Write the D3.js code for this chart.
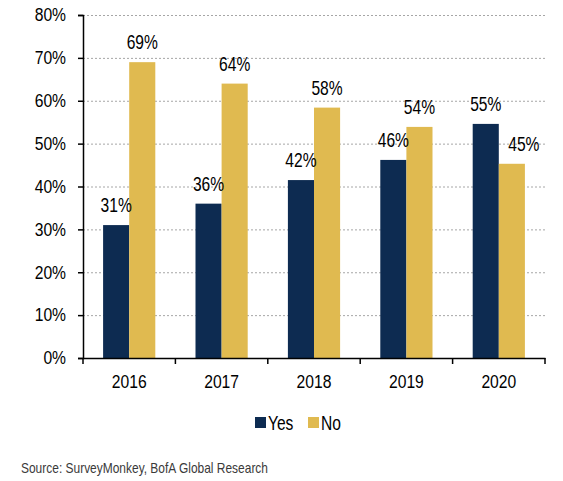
<!DOCTYPE html>
<html><head><meta charset="utf-8">
<script src="https://cdn.jsdelivr.net/npm/d3@7"></script>
<style>body{margin:0;background:#fff}svg{display:block}</style>
</head><body>
<svg id="c" width="563" height="481"></svg>
<script>
const categories = ["2016","2017","2018","2019","2020"];
const seriesNames = ["Yes","No"];
const yesValues = [31, 36, 41.5, 46.2, 54.6];
const noValues = [69, 64, 58.4, 53.9, 45.3];
const yesLabels = ["31%","36%","42%","46%","55%"];
const noLabels = ["69%","64%","58%","54%","45%"];
const yTicks = [0,10,20,30,40,50,60,70,80];
const colors = {Yes:"#0d2b51", No:"#e0ba50"};
const sourceText = "Source: SurveyMonkey, BofA  Global Research";

const svg = d3.select("#c");
const m = {l:83, r:545, t:15, b:358};
const font = "'Liberation Sans', Arial, sans-serif";

function squeeze(sel, sx){
  sel.each(function(){
    const t = d3.select(this);
    const x0 = +(t.attr("x") || 0);
    t.attr("x", x0/sx).attr("transform", `scale(${sx},1)`);
  });
}

const x = d3.scaleBand().domain(categories).range([m.l, m.r]);
const xs = d3.scaleBand().domain(seriesNames).range([0, x.bandwidth()]).paddingOuter(0.77).paddingInner(0);
const y = d3.scaleLinear().domain([0,80]).range([m.b, m.t]);

// gridlines
svg.append("g").selectAll("line").data(yTicks.filter(d=>d>0)).join("line")
  .attr("x1", m.l).attr("x2", m.r)
  .attr("y1", d=>y(d)+0.5).attr("y2", d=>y(d)+0.5)
  .attr("stroke","#a6a6a6").attr("stroke-width",1).attr("stroke-dasharray","2,2");

const data = categories.map((c,i)=>({cat:c, vals:[
  {s:"Yes", v:yesValues[i], lab:yesLabels[i], shift:0},
  {s:"No", v:noValues[i], lab:noLabels[i], shift: noValues[i] < yesValues[i] ? 12 : 0}]}));

const g = svg.append("g").selectAll("g").data(data).join("g")
  .attr("transform", d=>`translate(${x(d.cat)},0)`);
g.selectAll("rect").data(d=>d.vals).join("rect")
  .attr("x", d=>xs(d.s)).attr("width", xs.bandwidth())
  .attr("y", d=>y(d.v)).attr("height", d=>y(0)-y(d.v))
  .attr("fill", d=>colors[d.s]);
const vl = g.selectAll("text").data(d=>d.vals).join("text")
  .attr("x", d=>xs(d.s)+xs.bandwidth()/2 + d.shift)
  .attr("y", d=>y(d.v)-13)
  .attr("text-anchor","middle")
  .attr("font-family",font).attr("font-size",20).attr("fill","#000")
  .text(d=>d.lab);
squeeze(vl, 0.78);

// y axis
const ya = svg.append("g").attr("transform",`translate(${m.l},0)`)
  .call(d3.axisLeft(y).tickValues(yTicks).tickFormat(d=>d+"%").tickSize(5).tickPadding(12));
ya.select(".domain").attr("stroke","#000").attr("stroke-width",1.5);
ya.selectAll(".tick line").attr("stroke","#000").attr("stroke-width",1.5);
ya.selectAll("text").attr("font-family",font).attr("font-size",18).attr("fill","#000");
squeeze(ya.selectAll("text"), 0.87);

// x axis
const xa = svg.append("g").attr("transform",`translate(0,${m.b})`)
  .call(d3.axisBottom(x).tickSize(0).tickPadding(16));
xa.select(".domain").attr("stroke","#000").attr("stroke-width",1.5);
xa.selectAll("text").attr("font-family",font).attr("font-size",18).attr("fill","#000")
  .attr("dy",null).attr("y",30);
squeeze(xa.selectAll("text"), 0.87);
// category separator ticks
svg.append("g").selectAll("line").data(categories.concat(["end"])).join("line")
  .attr("x1", (d,i)=> i<categories.length ? x(d) : m.r)
  .attr("x2", (d,i)=> i<categories.length ? x(d) : m.r)
  .attr("y1", m.b).attr("y2", m.b+6)
  .attr("stroke","#000").attr("stroke-width",1.5);

// legend
const leg = svg.append("g");
const legX = [255, 308];
seriesNames.forEach((s,i)=>{
  leg.append("rect").attr("x",legX[i]).attr("y",417).attr("width",11).attr("height",11).attr("fill",colors[s]);
  const t = leg.append("text").attr("x",legX[i]+13).attr("y",430)
    .attr("font-family",font).attr("font-size",20).attr("fill","#000").text(s);
  squeeze(t, 0.78);
});

// source
svg.append("text").attr("x",21).attr("y",473)
  .attr("font-family","'Liberation Sans', sans-serif")
  .attr("font-size",15).attr("fill","#3a3a3a")
  .attr("textLength",247).attr("lengthAdjust","spacingAndGlyphs")
  .text(sourceText);
</script>
</body></html>
